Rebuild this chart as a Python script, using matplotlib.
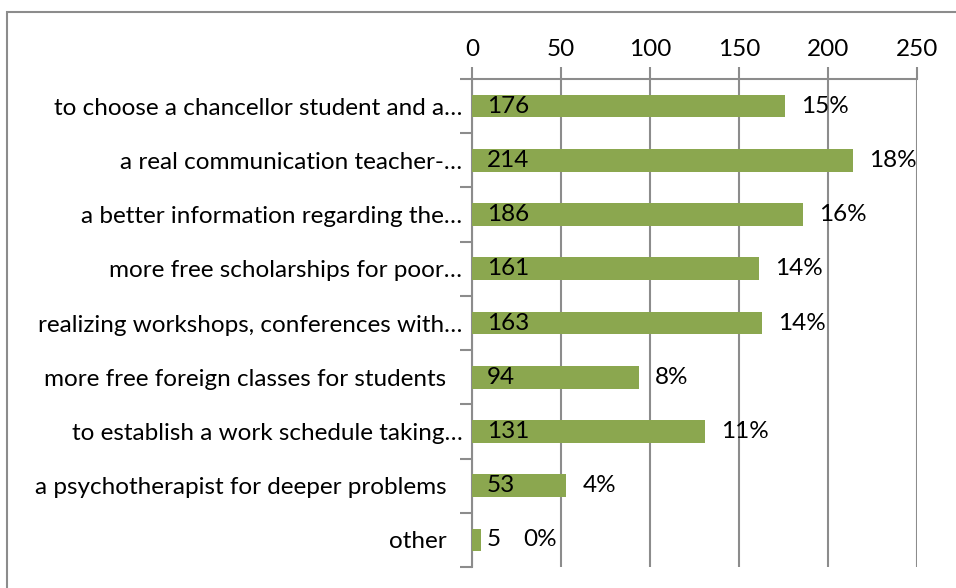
import matplotlib
matplotlib.use("Agg")
import matplotlib.pyplot as plt
from matplotlib.patches import Rectangle
from matplotlib.transforms import ScaledTranslation

categories = ["to choose a chancellor student and a\u2026",
              "a real communication teacher-\u2026",
              "a better information regarding the\u2026",
              "more free scholarships for poor\u2026",
              "realizing workshops, conferences with\u2026",
              "more free foreign classes for students",
              "to establish a work schedule taking\u2026",
              "a psychotherapist for deeper problems",
              "other"]
values = [176, 214, 186, 161, 163, 94, 131, 53, 5]
percents = ["15%", "18%", "16%", "14%", "14%", "8%", "11%", "4%", "0%"]

plt.rcParams['font.family'] = ['Lato', 'DejaVu Sans']
green = "#8BA74F"
gray = "#8C8C8C"
fs = 17.5

fig = plt.figure(figsize=(9.56, 5.88), dpi=100)
ax = fig.add_axes([472 / 956, 1 - 567 / 588, 445 / 956, 488 / 588])

pos = list(range(len(categories)))
ax.barh(pos, values, height=0.42, color=green, zorder=3)
ax.set_ylim(len(categories) - 0.5, -0.5)
ax.set_xlim(0, 250)

ax.xaxis.tick_top()
ax.set_xticks([0, 50, 100, 150, 200, 250])
ax.tick_params(axis='x', length=9, width=1.5, color=gray, labelsize=fs, pad=5)
ax.set_yticks(pos)
ax.set_yticklabels(categories, fontsize=fs)
ax.tick_params(axis='y', length=0, pad=7)
ax.set_yticks([p + 0.5 for p in [-1] + pos], minor=True)
ax.tick_params(axis='y', which='minor', length=9, width=1.5, color=gray)

# untruncated labels sit a little further left, like in the original
for lbl in ax.get_yticklabels():
    if not lbl.get_text().endswith("\u2026"):
        lbl.set_transform(lbl.get_transform() + ScaledTranslation(-0.16, 0, fig.dpi_scale_trans))

ax.grid(axis='x', color=gray, linewidth=1.5, zorder=1)
for s in ['right', 'bottom']:
    ax.spines[s].set_visible(False)
for s in ['top', 'left']:
    ax.spines[s].set_color(gray)
    ax.spines[s].set_linewidth(1.5)

for p, v, pc in zip(pos, values, percents):
    ax.annotate(str(v), (0, p), xytext=(15, 0), textcoords='offset pixels',
                va='center', ha='left', fontsize=fs, zorder=4)
    ax.annotate(pc, (max(v, 20), p), xytext=(16, 0), textcoords='offset pixels',
                va='center', ha='left', fontsize=fs, zorder=4)

fig.patches.append(Rectangle((7 / 956, -0.1), 2, 1.1 - 12 / 588, transform=fig.transFigure,
                             fill=False, edgecolor=gray, linewidth=1.5, figure=fig))

fig.savefig("out.png", dpi=100)
